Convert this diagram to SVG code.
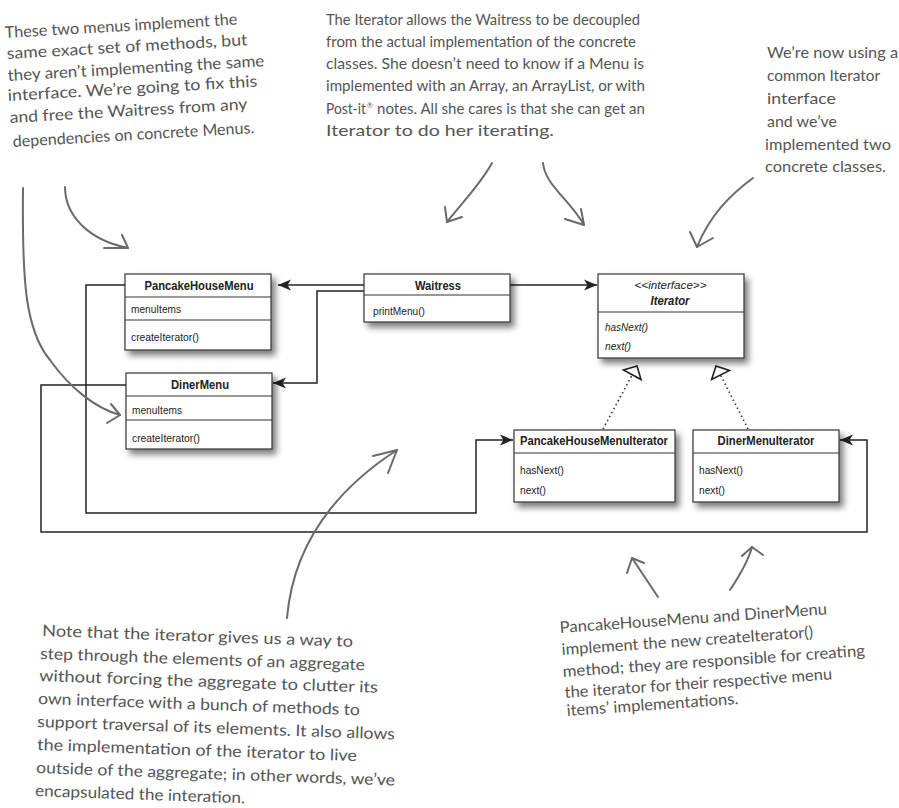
<svg xmlns="http://www.w3.org/2000/svg" width="899" height="808" viewBox="0 0 899 808">
<defs>
<filter id="sh" x="-20%" y="-20%" width="150%" height="160%">
<feDropShadow dx="4" dy="5" stdDeviation="3" flood-color="#000" flood-opacity="0.5"/>
</filter>
<marker id="arr" viewBox="-14 -7 15 14" refX="0" refY="0" markerWidth="15" markerHeight="14" markerUnits="userSpaceOnUse" orient="auto">
<path d="M0,0 L-13,-5.5 L-9.5,0 L-13,5.5 z" fill="#222" stroke="none"/>
</marker>
<marker id="tri" viewBox="-12 -12 14 24" refX="0" refY="0" markerWidth="14" markerHeight="24" markerUnits="userSpaceOnUse" orient="auto">
<path d="M0,0 L-10,-10 L-10,10 z" fill="#fff" stroke="#222" stroke-width="1.6" stroke-dasharray="none"/>
</marker>
</defs>
<style>
.box{fill:#fff;stroke:#333;stroke-width:1.2;filter:url(#sh)}
.div{stroke:#333;stroke-width:1}
.hd{font-family:"Liberation Sans",Arial,sans-serif;font-size:12px;font-weight:bold;fill:#222;text-anchor:middle}
.mb{font-family:"Liberation Sans",Arial,sans-serif;font-size:11px;fill:#222}
.it{font-style:italic}
.con{fill:none;stroke:#222;stroke-width:1.5}
.dot{fill:none;stroke:#333;stroke-width:1.6;stroke-dasharray:1.5 3}
.note{font-family:Lato,"Open Sans",sans-serif;font-size:16px;fill:#555}
.sup{font-size:7px}
.ga{fill:none;stroke:#6a6a6a;stroke-width:2;stroke-linecap:round;stroke-linejoin:round}
</style>

<g id="connectors">
<path class="con" d="M364,285 H278" marker-end="url(#arr)"/>
<path class="con" d="M364,291 H317 V383 H273" marker-end="url(#arr)"/>
<path class="con" d="M510,285 H597" marker-end="url(#arr)"/>
<path class="con" d="M125,285 H86 V513 H476 V440 H513" marker-end="url(#arr)"/>
<path class="con" d="M126,385 H41 V532 H867 V440 H840" marker-end="url(#arr)"/>
<path class="dot" d="M603,429 L637,366" marker-end="url(#tri)"/>
<path class="dot" d="M748,429 L716,366" marker-end="url(#tri)"/>
</g>

<g id="PancakeHouseMenu">
<rect class="box" x="125" y="274" width="146" height="76"/>
<line class="div" x1="125" y1="297" x2="271" y2="297"/>
<line class="div" x1="125" y1="320" x2="271" y2="320"/>
<text class="hd" x="199" y="290" textLength="109" lengthAdjust="spacingAndGlyphs">PancakeHouseMenu</text>
<text class="mb" x="131" y="313" textLength="50" lengthAdjust="spacingAndGlyphs">menuItems</text>
<text class="mb" x="131" y="341" textLength="68" lengthAdjust="spacingAndGlyphs">createIterator()</text>
</g>

<g id="DinerMenu">
<rect class="box" x="126" y="373" width="146" height="76"/>
<line class="div" x1="126" y1="396" x2="272" y2="396"/>
<line class="div" x1="126" y1="420" x2="272" y2="420"/>
<text class="hd" x="200" y="389" textLength="58" lengthAdjust="spacingAndGlyphs">DinerMenu</text>
<text class="mb" x="132" y="414" textLength="50" lengthAdjust="spacingAndGlyphs">menuItems</text>
<text class="mb" x="132" y="442" textLength="68" lengthAdjust="spacingAndGlyphs">createIterator()</text>
</g>

<g id="Waitress">
<rect class="box" x="364" y="274" width="146" height="48"/>
<line class="div" x1="364" y1="295" x2="510" y2="295"/>
<text class="hd" x="438" y="290" textLength="46" lengthAdjust="spacingAndGlyphs">Waitress</text>
<text class="mb" x="373" y="315" textLength="52" lengthAdjust="spacingAndGlyphs">printMenu()</text>
</g>

<g id="Iterator">
<rect class="box" x="598" y="274" width="146" height="84"/>
<line class="div" x1="598" y1="312" x2="744" y2="312"/>
<text class="mb it" x="670.5" y="289" text-anchor="middle" textLength="72" lengthAdjust="spacingAndGlyphs">&lt;&lt;interface&gt;&gt;</text>
<text class="hd it" x="670" y="305" textLength="39" lengthAdjust="spacingAndGlyphs">Iterator</text>
<text class="mb it" x="605" y="331" textLength="43" lengthAdjust="spacingAndGlyphs">hasNext()</text>
<text class="mb it" x="605" y="350" textLength="26" lengthAdjust="spacingAndGlyphs">next()</text>
</g>

<g id="PancakeHouseMenuIterator">
<rect class="box" x="514" y="430" width="161" height="72"/>
<line class="div" x1="514" y1="453" x2="675" y2="453"/>
<text class="hd" x="594" y="445" textLength="148" lengthAdjust="spacingAndGlyphs">PancakeHouseMenuIterator</text>
<text class="mb" x="520" y="474" textLength="44" lengthAdjust="spacingAndGlyphs">hasNext()</text>
<text class="mb" x="520" y="494" textLength="26" lengthAdjust="spacingAndGlyphs">next()</text>
</g>

<g id="DinerMenuIterator">
<rect class="box" x="693" y="430" width="146" height="72"/>
<line class="div" x1="693" y1="453" x2="839" y2="453"/>
<text class="hd" x="766" y="445" textLength="97" lengthAdjust="spacingAndGlyphs">DinerMenuIterator</text>
<text class="mb" x="699" y="474" textLength="44" lengthAdjust="spacingAndGlyphs">hasNext()</text>
<text class="mb" x="699" y="494" textLength="26" lengthAdjust="spacingAndGlyphs">next()</text>
</g>

<g id="note-menus">
<text class="note" x="5" y="38" transform="rotate(-3.3 5 38)" textLength="233" lengthAdjust="spacingAndGlyphs">These two menus implement the</text>
<text class="note" x="7" y="59" transform="rotate(-3.3 7 59)" textLength="241" lengthAdjust="spacingAndGlyphs">same exact set of methods, but</text>
<text class="note" x="8" y="81" transform="rotate(-3.3 8 81)" textLength="257" lengthAdjust="spacingAndGlyphs">they aren’t implementing the same</text>
<text class="note" x="8" y="101" transform="rotate(-3.3 8 101)" textLength="250" lengthAdjust="spacingAndGlyphs">interface. We’re going to fix this</text>
<text class="note" x="10" y="123" transform="rotate(-3.3 10 123)" textLength="238" lengthAdjust="spacingAndGlyphs">and free the Waitress from any</text>
<text class="note" x="13" y="147" transform="rotate(-3.3 13 147)" textLength="242" lengthAdjust="spacingAndGlyphs">dependencies on concrete Menus.</text>
<path class="ga" d="M65,187 C65,215 88,240 128,248"/>
<path class="ga" d="M104,248 L128,248 L122,235"/>
<path class="ga" d="M23,188 C22,280 25,330 50,360 C70,388 95,408 120,415"/>
<path class="ga" d="M107,423 L120,415 L111,404"/>
</g>

<g id="note-decoupled">
<text class="note" x="326" y="25" textLength="314" lengthAdjust="spacingAndGlyphs">The Iterator allows the Waitress to be decoupled</text>
<text class="note" x="326" y="47" textLength="310" lengthAdjust="spacingAndGlyphs">from the actual implementation of the concrete</text>
<text class="note" x="326" y="69" textLength="318" lengthAdjust="spacingAndGlyphs">classes.  She doesn’t need to know if a Menu is</text>
<text class="note" x="326" y="91" textLength="319" lengthAdjust="spacingAndGlyphs">implemented with an Array, an ArrayList, or with</text>
<text class="note" x="326" y="114" textLength="40" lengthAdjust="spacingAndGlyphs">Post-it</text>
<text class="note sup" x="367" y="108">®</text>
<text class="note" x="377" y="114" textLength="268" lengthAdjust="spacingAndGlyphs">notes. All she cares is that she can get an</text>
<text class="note" x="326" y="136" textLength="228" lengthAdjust="spacingAndGlyphs">Iterator to do her iterating.</text>
<path class="ga" d="M492,163 C480,185 460,205 447,222"/>
<path class="ga" d="M445,207 L447,222 L462,217"/>
<path class="ga" d="M543,163 C545,185 570,200 584,225"/>
<path class="ga" d="M565,219 L584,225 L581,209"/>
</g>

<g id="note-common">
<text class="note" x="767" y="58" textLength="131" lengthAdjust="spacingAndGlyphs">We’re now using a</text>
<text class="note" x="767" y="81" textLength="113" lengthAdjust="spacingAndGlyphs">common Iterator</text>
<text class="note" x="767" y="104" textLength="69" lengthAdjust="spacingAndGlyphs">interface</text>
<text class="note" x="767" y="127" textLength="70" lengthAdjust="spacingAndGlyphs">and we’ve</text>
<text class="note" x="765" y="150" textLength="126" lengthAdjust="spacingAndGlyphs">implemented two</text>
<text class="note" x="765" y="172" textLength="121" lengthAdjust="spacingAndGlyphs">concrete classes.</text>
<path class="ga" d="M753,178 C730,195 710,215 697,247"/>
<path class="ga" d="M690,232 L697,247 L713,238"/>
</g>

<g id="note-aggregate">
<text class="note" x="42" y="636" transform="rotate(2 42 636)" textLength="311" lengthAdjust="spacingAndGlyphs">Note that the iterator gives us a way to</text>
<text class="note" x="40" y="659" transform="rotate(2 40 659)" textLength="325" lengthAdjust="spacingAndGlyphs">step through the elements of an aggregate</text>
<text class="note" x="39" y="681" transform="rotate(2 39 681)" textLength="339" lengthAdjust="spacingAndGlyphs">without forcing the aggregate to clutter its</text>
<text class="note" x="38" y="704" transform="rotate(2 38 704)" textLength="322" lengthAdjust="spacingAndGlyphs">own interface with a bunch of methods to</text>
<text class="note" x="37" y="727" transform="rotate(2 37 727)" textLength="358" lengthAdjust="spacingAndGlyphs">support traversal of its elements. It also allows</text>
<text class="note" x="37" y="750" transform="rotate(2 37 750)" textLength="320" lengthAdjust="spacingAndGlyphs">the implementation of the iterator to live</text>
<text class="note" x="36" y="773" transform="rotate(2 36 773)" textLength="359" lengthAdjust="spacingAndGlyphs">outside of the aggregate; in other words, we’ve</text>
<text class="note" x="35" y="796" transform="rotate(2 35 796)" textLength="210" lengthAdjust="spacingAndGlyphs">encapsulated the interation.</text>
<path class="ga" d="M287,618 C292,560 320,500 397,450"/>
<path class="ga" d="M373,456 L397,450 L388,473"/>
</g>

<g id="note-createIterator">
<text class="note" x="560" y="633" transform="rotate(-4 560 633)" textLength="268" lengthAdjust="spacingAndGlyphs">PancakeHouseMenu and DinerMenu</text>
<text class="note" x="562" y="655" transform="rotate(-4 562 655)" textLength="252" lengthAdjust="spacingAndGlyphs">implement the new createIterator()</text>
<text class="note" x="563" y="677" transform="rotate(-4 563 677)" textLength="303" lengthAdjust="spacingAndGlyphs">method; they are responsible for creating</text>
<text class="note" x="565" y="698" transform="rotate(-4 565 698)" textLength="268" lengthAdjust="spacingAndGlyphs">the iterator for their respective menu</text>
<text class="note" x="567" y="716" transform="rotate(-4 567 716)" textLength="172" lengthAdjust="spacingAndGlyphs">items’ implementations.</text>
<path class="ga" d="M658,597 C650,585 640,570 632,558"/>
<path class="ga" d="M627,573 L632,558 L644,563"/>
<path class="ga" d="M730,590 C740,575 748,562 752,547"/>
<path class="ga" d="M742,556 L752,547 L763,555"/>
</g>
</svg>
